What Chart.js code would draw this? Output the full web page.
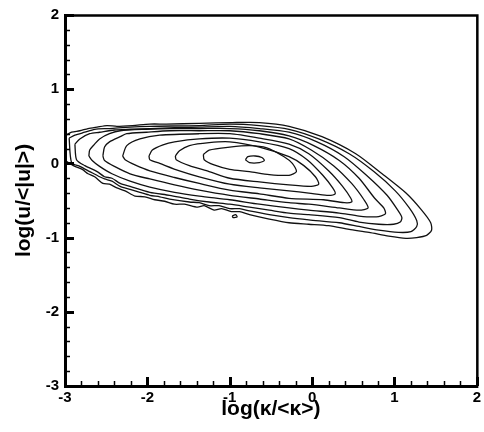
<!DOCTYPE html>
<html>
<head>
<meta charset="utf-8">
<script src="https://cdn.jsdelivr.net/npm/chart.js@4.4.1/dist/chart.umd.min.js"></script>
<style>
  html, body { margin: 0; padding: 0; background: #fff; }
  #c { display: block; }
</style>
</head>
<body>
<canvas id="c" width="484" height="432"></canvas>
<script>
// Axis ranges and labels
const xRange = [-3, 2];
const yRange = [-3, 2];
const xTitle = 'log(κ/<κ>)';
const yTitle = 'log(u/<|u|>)';

// Joint PDF iso-lines, [log(κ/<κ>), log(u/<|u|>)] pairs, outermost first
const contour1 = [
  [-2.99,0.38],[-2.92,0.42],[-2.82,0.44],[-2.72,0.47],[-2.61,0.49],[-2.49,0.51],[-2.37,0.50],
  [-2.18,0.51],[-1.97,0.53],[-1.77,0.53],[-1.37,0.54],[-0.97,0.55],[-0.64,0.55],[-0.28,0.50],
  [0.12,0.36],[0.53,0.13],[0.85,-0.14],[1.14,-0.40],[1.33,-0.63],[1.44,-0.80],[1.45,-0.90],
  [1.39,-0.97],[1.27,-1.00],[1.14,-1.01],[0.93,-0.98],[0.69,-0.93],[0.45,-0.89],[0.20,-0.84],
  [-0.04,-0.82],[-0.28,-0.80],[-0.52,-0.75],[-0.76,-0.69],[-0.88,-0.65],[-0.98,-0.65],[-1.10,-0.61],
  [-1.19,-0.63],[-1.31,-0.57],[-1.39,-0.59],[-1.55,-0.55],[-1.67,-0.55],[-1.79,-0.51],[-1.91,-0.49],
  [-2.03,-0.45],[-2.15,-0.44],[-2.27,-0.37],[-2.37,-0.33],[-2.46,-0.28],[-2.54,-0.27],[-2.64,-0.18],
  [-2.72,-0.14],[-2.79,-0.08],[-2.88,-0.04],[-2.94,0.00],[-2.99,0.04],[-2.99,0.38]
];
const contour2 = [
  [-2.95,0.34],[-2.88,0.38],[-2.76,0.42],[-2.64,0.46],[-2.46,0.47],[-2.21,0.49],[-1.97,0.50],
  [-1.37,0.51],[-1.00,0.53],[-0.64,0.51],[-0.28,0.46],[0.08,0.33],[0.45,0.13],[0.75,-0.11],
  [1.01,-0.37],[1.18,-0.60],[1.27,-0.77],[1.27,-0.85],[1.20,-0.92],[1.05,-0.93],[0.81,-0.90],
  [0.57,-0.85],[0.33,-0.80],[-0.04,-0.76],[-0.28,-0.73],[-0.52,-0.69],[-0.76,-0.64],[-0.88,-0.61],
  [-1.00,-0.61],[-1.13,-0.57],[-1.25,-0.57],[-1.37,-0.53],[-1.49,-0.52],[-1.73,-0.48],[-1.85,-0.45],
  [-1.97,-0.43],[-2.09,-0.39],[-2.21,-0.35],[-2.33,-0.31],[-2.43,-0.24],[-2.52,-0.21],[-2.58,-0.18],
  [-2.70,-0.11],[-2.82,-0.04],[-2.92,0.01],[-2.95,0.34]
];
const contour3 = [
  [-2.88,0.26],[-2.82,0.33],[-2.70,0.40],[-2.58,0.42],[-2.40,0.45],[-2.21,0.46],[-1.97,0.47],
  [-1.37,0.49],[-1.00,0.50],[-0.64,0.47],[-0.28,0.42],[0.06,0.29],[0.39,0.09],[0.66,-0.16],
  [0.91,-0.43],[1.04,-0.63],[1.09,-0.73],[1.07,-0.79],[0.99,-0.82],[0.81,-0.82],[0.57,-0.79],
  [0.33,-0.73],[-0.04,-0.69],[-0.28,-0.67],[-0.52,-0.63],[-0.76,-0.59],[-1.00,-0.55],[-1.25,-0.52],
  [-1.49,-0.48],[-1.73,-0.43],[-1.97,-0.39],[-2.21,-0.31],[-2.33,-0.27],[-2.43,-0.20],[-2.52,-0.18],
  [-2.61,-0.11],[-2.76,-0.03],[-2.86,0.05],[-2.88,0.26]
];
const contour4 = [
  [-2.71,0.10],[-2.70,0.18],[-2.64,0.26],[-2.58,0.33],[-2.46,0.40],[-2.33,0.44],[-2.01,0.46],
  [-1.73,0.47],[-1.37,0.47],[-1.00,0.47],[-0.64,0.44],[-0.28,0.37],[0.02,0.24],[0.33,0.04],
  [0.57,-0.20],[0.76,-0.47],[0.87,-0.60],[0.89,-0.68],[0.78,-0.72],[0.57,-0.71],[0.33,-0.67],
  [-0.04,-0.63],[-0.28,-0.60],[-0.64,-0.55],[-1.00,-0.49],[-1.37,-0.44],[-1.67,-0.39],[-1.97,-0.32],
  [-2.21,-0.24],[-2.43,-0.14],[-2.58,-0.04],[-2.67,0.04],[-2.71,0.10]
];
const contour5 = [
  [-2.54,0.10],[-2.52,0.22],[-2.46,0.29],[-2.33,0.36],[-2.25,0.40],[-2.01,0.42],[-1.73,0.44],
  [-1.37,0.44],[-1.00,0.44],[-0.64,0.40],[-0.28,0.33],[-0.01,0.18],[0.26,-0.03],[0.48,-0.27],
  [0.63,-0.49],[0.68,-0.60],[0.57,-0.63],[0.33,-0.60],[-0.04,-0.55],[-0.28,-0.53],[-0.64,-0.48],
  [-1.00,-0.43],[-1.37,-0.36],[-1.67,-0.29],[-1.97,-0.21],[-2.21,-0.14],[-2.40,-0.04],[-2.52,0.04],
  [-2.54,0.10]
];
const contour6 = [
  [-2.30,0.10],[-2.25,0.24],[-2.09,0.33],[-1.85,0.38],[-1.37,0.40],[-1.00,0.40],[-0.64,0.34],
  [-0.28,0.26],[-0.04,0.13],[0.20,-0.10],[0.37,-0.31],[0.47,-0.47],[0.48,-0.52],[0.39,-0.53],
  [0.14,-0.49],[-0.28,-0.47],[-0.64,-0.41],[-1.00,-0.36],[-1.37,-0.27],[-1.67,-0.19],[-1.97,-0.10],
  [-2.15,-0.02],[-2.27,0.05],[-2.30,0.10]
];
const contour7 = [
  [-1.98,0.10],[-1.94,0.18],[-1.81,0.25],[-1.67,0.29],[-1.37,0.33],[-1.00,0.34],[-0.64,0.29],
  [-0.28,0.20],[-0.06,0.05],[0.13,-0.16],[0.25,-0.33],[0.28,-0.41],[0.18,-0.43],[-0.04,-0.40],
  [-0.28,-0.37],[-0.64,-0.33],[-1.00,-0.28],[-1.37,-0.18],[-1.61,-0.10],[-1.85,0.00],[-1.97,0.05],
  [-1.98,0.10]
];
const contour8 = [
  [-1.66,0.10],[-1.61,0.17],[-1.49,0.24],[-1.25,0.28],[-1.00,0.29],[-0.64,0.22],[-0.28,0.09],
  [-0.10,-0.03],[0.04,-0.18],[0.08,-0.28],[-0.01,-0.31],[-0.28,-0.29],[-0.64,-0.25],[-1.00,-0.20],
  [-1.25,-0.11],[-1.49,-0.03],[-1.65,0.05],[-1.66,0.10]
];
const contour9 = [
  [-1.32,0.12],[-1.25,0.18],[-1.00,0.22],[-0.76,0.24],[-0.55,0.21],[-0.34,0.09],[-0.24,0.00],
  [-0.19,-0.11],[-0.28,-0.16],[-0.52,-0.15],[-0.76,-0.11],[-1.00,-0.08],[-1.19,-0.02],[-1.31,0.05],
  [-1.32,0.12]
];
const contour10 = [
  [-0.81,0.05],[-0.78,0.09],[-0.69,0.10],[-0.61,0.08],[-0.58,0.04],[-0.64,0.01],[-0.76,0.01],
  [-0.81,0.05]
];
const island = [
  [-0.97,-0.71],[-0.93,-0.69],[-0.91,-0.72],[-0.96,-0.73],[-0.97,-0.71]
];

const contours = [contour1, contour2, contour3, contour4, contour5,
                  contour6, contour7, contour8, contour9, contour10, island];

const datasets = contours.map(c => ({
  data: c.map(([x, y]) => ({ x, y })),
  showLine: true,
  borderColor: '#111',
  borderWidth: 1.3,
  pointRadius: 0,
  tension: 0.25,
  fill: false
}));

// Closed frame with inward major/minor ticks on the left and bottom axes
const framePlugin = {
  id: 'frame',
  afterDraw(chart) {
    const { ctx, chartArea: a, scales: { x, y } } = chart;
    ctx.save();
    ctx.strokeStyle = '#000';
    ctx.lineCap = 'butt';
    const minorStep = 0.2;
    for (let i = 0; i <= 25; i++) {
      const v = xRange[0] + i * minorStep;
      const major = i % 5 === 0;
      const px = Math.round(x.getPixelForValue(v)) + 0.5;
      ctx.lineWidth = major ? 3 : 1.5;
      ctx.beginPath();
      ctx.moveTo(px, a.bottom);
      ctx.lineTo(px, a.bottom - (major ? 9 : 5));
      ctx.stroke();
    }
    for (let i = 0; i <= 25; i++) {
      const v = yRange[0] + i * minorStep;
      const major = i % 5 === 0;
      const py = Math.round(y.getPixelForValue(v)) + 0.5;
      ctx.lineWidth = major ? 3 : 1.5;
      ctx.beginPath();
      ctx.moveTo(a.left, py);
      ctx.lineTo(a.left + (major ? 9 : 5), py);
      ctx.stroke();
    }
    ctx.lineWidth = 2.5;
    ctx.beginPath();
    ctx.moveTo(a.left, a.top + 0.5);
    ctx.lineTo(a.right + 0.5, a.top + 0.5);
    ctx.lineTo(a.right + 0.5, a.bottom);
    ctx.stroke();
    ctx.lineWidth = 3;
    ctx.beginPath();
    ctx.moveTo(a.left + 0.5, a.top - 1);
    ctx.lineTo(a.left + 0.5, a.bottom + 0.5);
    ctx.lineTo(a.right + 1.5, a.bottom + 0.5);
    ctx.stroke();
    ctx.restore();
  }
};

const tickFont = { family: '"Liberation Sans", Arial, sans-serif', size: 15, weight: 'bold' };
const titleFont = { family: '"Liberation Sans", Arial, sans-serif', size: 21, weight: 'bold' };

new Chart(document.getElementById('c'), {
  type: 'scatter',
  data: { datasets },
  options: {
    responsive: false,
    devicePixelRatio: 1,
    animation: false,
    layout: { padding: { top: 9, right: 6, left: 0, bottom: 0 } },
    plugins: { legend: { display: false }, tooltip: { enabled: false } },
    scales: {
      x: {
        type: 'linear', min: xRange[0], max: xRange[1],
        border: { display: false },
        grid: { display: false, drawTicks: false },
        ticks: { stepSize: 1, color: '#000', font: tickFont, padding: 3, maxRotation: 0 },
        title: { display: true, text: xTitle, color: '#000', font: titleFont, padding: { top: 0, bottom: 10 } },
        afterFit(s) { s.height = 46; }
      },
      y: {
        type: 'linear', min: yRange[0], max: yRange[1],
        border: { display: false },
        grid: { display: false, drawTicks: false },
        ticks: { stepSize: 1, color: '#000', font: tickFont, padding: 6 },
        title: { display: true, text: yTitle, color: '#000', font: titleFont, padding: { top: 12, bottom: 0 } },
        afterFit(s) { s.width = 65; }
      }
    }
  },
  plugins: [framePlugin]
});
</script>
</body>
</html>
